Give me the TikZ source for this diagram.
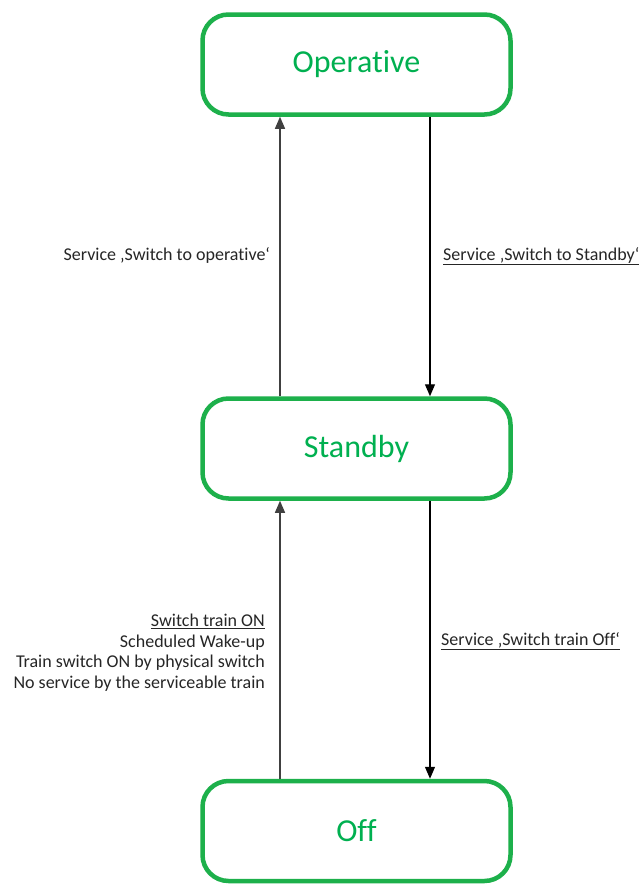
\documentclass[tikz,border=0pt]{standalone}
\usepackage{fontspec}
\setmainfont{Carlito}[Ligatures=NoCommon]
\usetikzlibrary{arrows.meta}
\definecolor{stategreen}{HTML}{1DB04B}
\definecolor{statetext}{HTML}{00B050}
\definecolor{linegrey}{HTML}{404040}
\begin{document}
\begin{tikzpicture}[x=1pt,y=-1pt,
  state/.style={draw=stategreen, line width=4.5pt, rounded corners=26pt,
    minimum width=308pt, minimum height=100pt, inner sep=0pt,
    text=statetext, font=\fontsize{32}{38}\selectfont},
  trans/.style={line width=1.2pt, -{Triangle[length=12pt,width=10pt]}},
  lbl/.style={font=\fontsize{18}{20.5}\selectfont, inner sep=0pt, text=black!85}]
  \useasboundingbox (0,0) rectangle (640,884);
  \fill[white] (0,0) rectangle (640,884);

  % states
  \node[state] (op) at (356.5,64.5) {Operative};
  \node[state] (sb) at (356.5,448.5) {Standby};
  \node[state] (off) at (356.5,831) {Off};

  % x positions of the upward and downward transitions
  \coordinate (up) at (280,0);
  \coordinate (dn) at (430,0);

  % transitions
  \draw[trans, linegrey] (sb.north -| up) -- (op.south -| up);
  \draw[trans, black] (op.south -| dn) -- (sb.north -| dn);
  \draw[trans, linegrey] (off.north -| up) -- (sb.south -| up);
  \draw[trans, black] (sb.south -| dn) -- (off.north -| dn);

  % transition labels
  \node[lbl, anchor=base east] (l1) at (270,260) {Service ‚Switch to operative‘};
  \node[lbl, anchor=base west] (l2) at (443,260) {\underline{Service ‚Switch to Standby‘}};
  \node[lbl, anchor=base east, align=right] (l3) at (265,688)
    {\underline{Switch train ON}\\Scheduled Wake-up\\Train switch ON by physical switch\\No service by the serviceable train};
  \node[lbl, anchor=base west] (l4) at (441,645) {\underline{Service ‚Switch train Off‘}};
\end{tikzpicture}
\end{document}
